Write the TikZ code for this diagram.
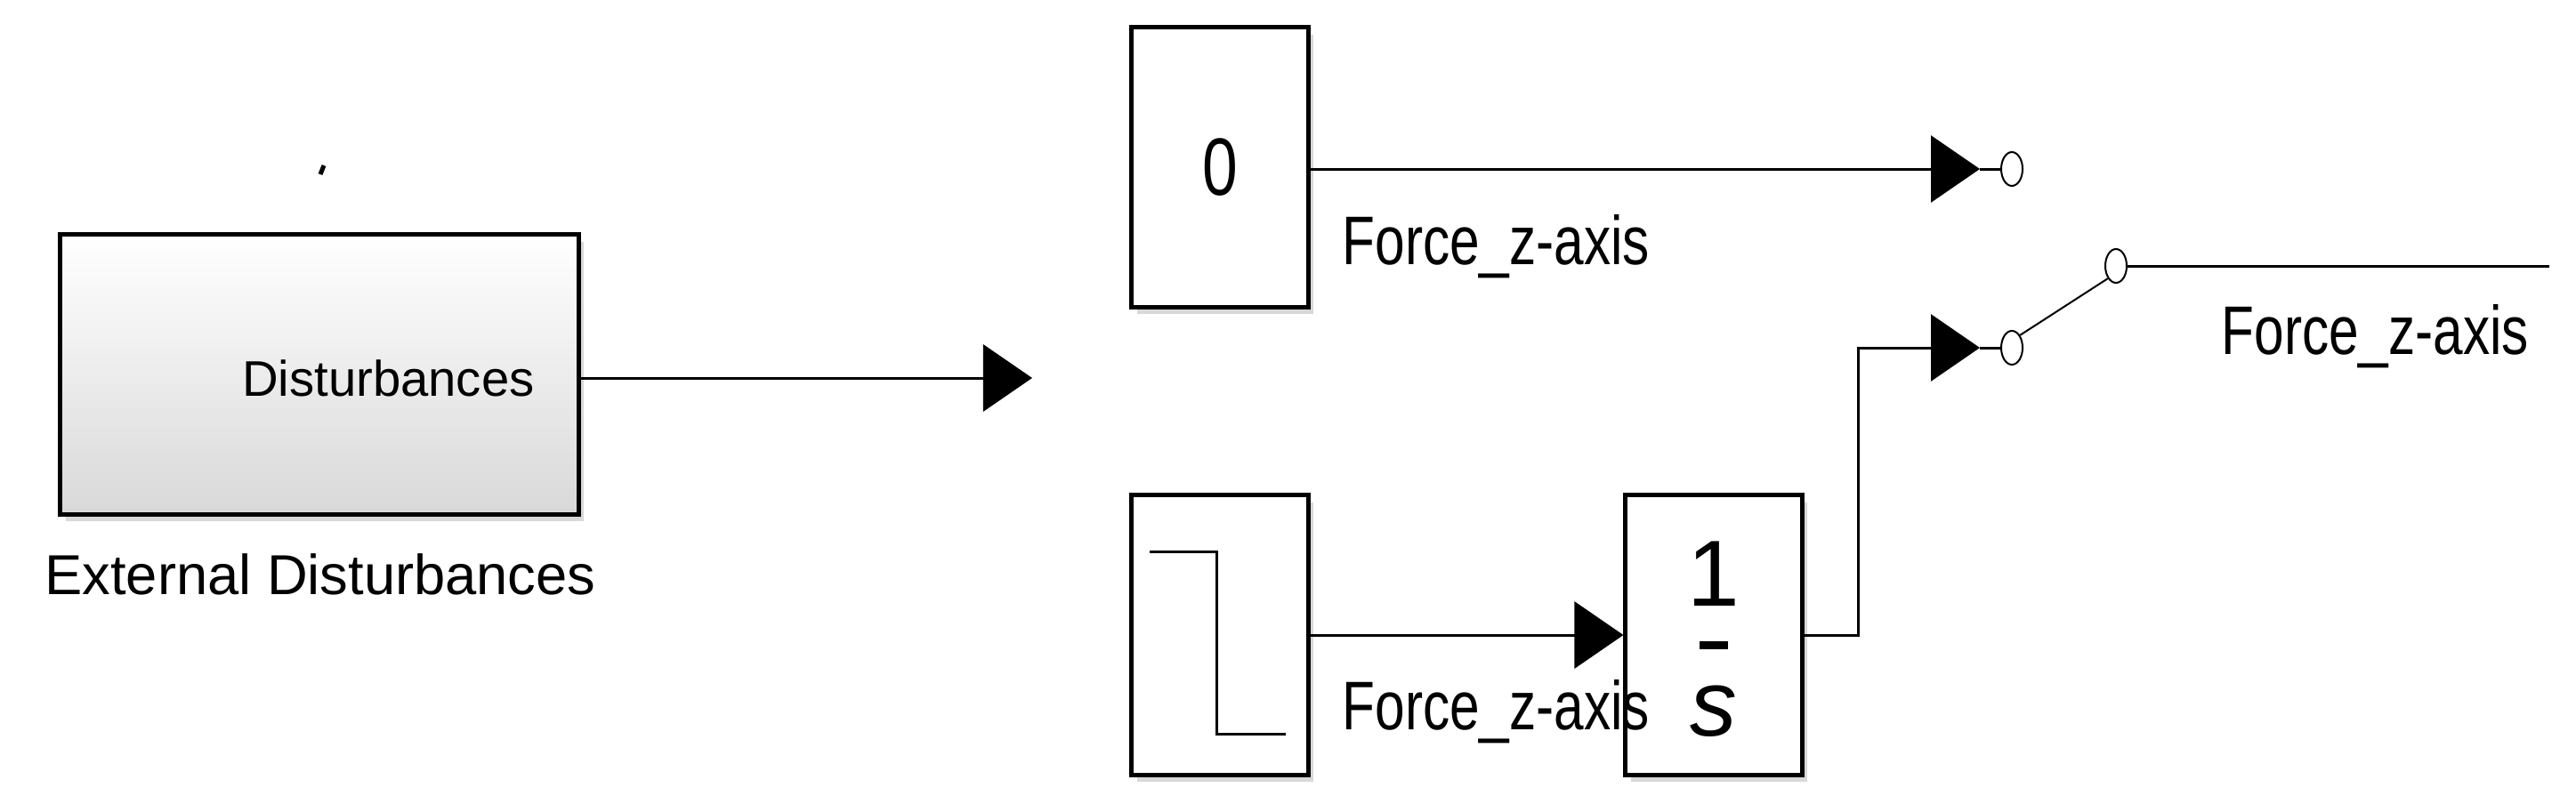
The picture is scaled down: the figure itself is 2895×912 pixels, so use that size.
\documentclass[tikz,border=0pt]{standalone}
\usepackage{fontspec}
\setmainfont{Liberation Sans}
\usetikzlibrary{arrows.meta,shadows,shapes.geometric}

\tikzset{
  block/.style={draw, line width=0.5mm, fill=white, minimum width=1.98cm, minimum height=3.14cm,
    drop shadow={shadow xshift=0.6mm, shadow yshift=-0.8mm, fill=gray!60}},
  sig/.style={line width=0.3mm, -{Triangle[length=5.5mm, width=7.5mm]}},
  wire/.style={line width=0.3mm},
  lbl/.style={font=\fontsize{22}{24}\selectfont, xscale=0.78, transform shape, inner sep=0pt},
  port/.style={draw, ellipse, minimum width=2.4mm, minimum height=3.8mm, inner sep=0pt, line width=0.2mm, fill=white}
}

\begin{document}
\begin{tikzpicture}[x=0.01cm, y=-0.01cm]
  \useasboundingbox (0,0) rectangle (2895,912);

  % subsystem
  \node[draw, line width=0.5mm, minimum width=5.82cm, minimum height=3.14cm, top color=white, bottom color=gray!30,
    drop shadow={shadow xshift=0.6mm, shadow yshift=-0.8mm, fill=gray!60}] (dist) at (359,421) {};
  \node[anchor=east, font=\fontsize{16}{18}\selectfont] (distout) at (613,425) {Disturbances};
  \node[font=\fontsize{18}{20}\selectfont] (distname) at (360,646) {External Disturbances};
  \draw[line width=0.5mm] (364,186) -- (360,196);
  \coordinate (distend) at (1160,425);
  \draw[sig] (dist.east |- distend) -- (distend);

  % constant
  \node[block] (zero) at (1371,188) {};
  \node[lbl, font=\fontsize{26}{28}\selectfont] at (zero) {0};
  \node[port] (inA) at (2261,190) {};
  \draw[sig] (zero.east |- inA) -- (2225,190);
  \draw[wire] (2225,190) -- (inA.west);
  \node[lbl, anchor=west] (lblA) at (1508,277) {Force\_z-axis};

  % step
  \node[block] (step) at (1371,714) {};
  \draw[wire] (1292,620) -- (1367,620) -- (1367,825) -- (1445,825);

  % integrator
  \node[block] (integ) at (1926,714) {};
  \node[font=\fontsize{30}{32}\selectfont\rmfamily] at (1926,645) {1};
  \draw[line width=0.9mm] (1910,725) -- (1942,725);
  \node[font=\fontsize{30}{32}\selectfont\rmfamily\itshape] at (1926,800) {s};
  \draw[sig] (step.east |- integ) -- (integ.west);
  \node[lbl, anchor=west] (lblB) at (1508,800) {Force\_z-axis};

  % switch
  \node[port] (inB) at (2261,391) {};
  \node[port] (out) at (2378,299) {};
  \draw[sig] (integ.east) -- (2088,714) -- (2088,391) -- (2225,391);
  \draw[wire] (2225,391) -- (inB.west);
  \draw[line width=0.2mm] (inB.north east) -- (out.south west);
  \coordinate (outend) at (2865,299);
  \draw[wire] (out.east) -- (outend);
  \node[lbl, anchor=west] (lblC) at (2496,378) {Force\_z-axis};
\end{tikzpicture}
\end{document}
